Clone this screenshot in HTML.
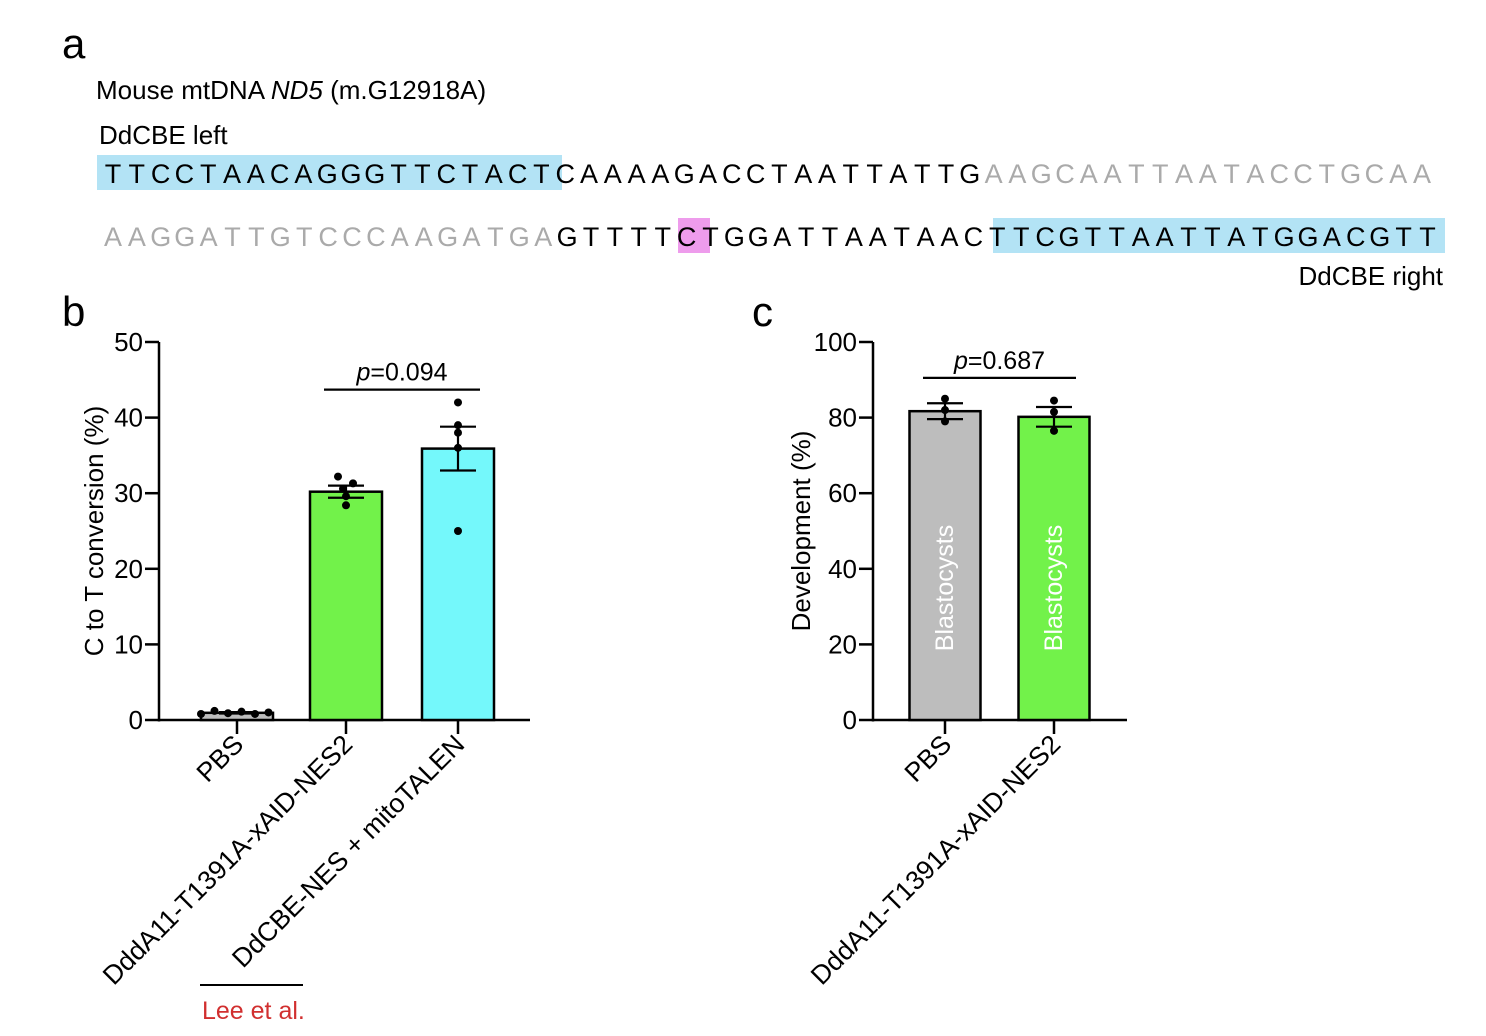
<!DOCTYPE html>
<html><head><meta charset="utf-8"><style>
html,body{margin:0;padding:0;background:#fff;width:1486px;height:1036px;overflow:hidden}
svg{display:block;font-family:"Liberation Sans",Arial,sans-serif}
</style></head><body>
<svg id="fig" width="1486" height="1036" viewBox="0 0 1486 1036">
<text x="62" y="58" font-size="42">a</text>
<text x="96" y="99" font-size="26">Mouse mtDNA <tspan font-style="italic">ND5</tspan> (m.G12918A)</text>
<text x="99" y="144" font-size="26">DdCBE left</text>
<text x="1443" y="285" font-size="26" text-anchor="end">DdCBE right</text>
<rect x="97" y="155" width="465" height="35" fill="#b3e3f5"/>
<rect x="678" y="218" width="32" height="35" fill="#ee9cec"/>
<rect x="993" y="218" width="452" height="35" fill="#b3e3f5"/>
<g id="seq" font-size="27" text-anchor="middle"></g>

<text x="62" y="326" font-size="42">b</text>
<g id="chartB"></g>
<text x="752" y="326" font-size="42">c</text>
<g id="chartC"></g>
</svg>
<script>
const NS="http://www.w3.org/2000/svg";
function mk(p,tag,attrs,txt){const e=document.createElementNS(NS,tag);for(const k in attrs)e.setAttribute(k,attrs[k]);if(txt!==undefined)e.textContent=txt;p.appendChild(e);return e;}
const seqLines=[
 [["TTCCTAACAGGGTTCTACT","#000"],["CAAAAGACCTAATTATTG","#000"],["AAGCAATTAATACCTGCAA","#aaa"]],
 [["AAGGATTGTCCCAAGATGA","#aaa"],["GTTTTCTGGATTAATAAC","#000"],["TTCGTTAATTATGGACGTT","#000"]]
];
const seqG=document.getElementById('seq');
seqLines.forEach((line,li)=>{
  let i=0;const x0=113,step=li===0?23.8:23.9,y=li===0?183:246;
  line.forEach(([s,c])=>{for(const ch of s){const t=mk(seqG,'text',{x:x0+i*step,y:y,fill:c},ch);
    
    i++;}});
});

// Chart B data
const catsB=["PBS","DddA11-T1391A-xAID-NES2","DdCBE-NES + mitoTALEN"];
const meansB=[0.95,30.2,35.9];
const semB=[0.1,0.8,2.9];
const ptsB=[[0.8,1.2,0.9,1.1,0.8,1.0],[32.2,31.3,30.6,29.6,28.4],[42,39,38,36,25]];
const colorsB=["#bdbdbd","#72f24a","#74f8fb"];
const ticksB=[0,10,20,30,40,50];
// Chart C data
const catsC=["PBS","DddA11-T1391A-xAID-NES2"];
const meansC=[81.7,80.2];
const semC=[2.1,2.6];
const ptsC=[[85,82,79],[84.5,81.5,76.5]];
const colorsC=["#bdbdbd","#72f24a"];
const ticksC=[0,20,40,60,80,100];

function chart(g,o){
  const y=v=>o.y0-(v-o.min)/(o.max-o.min)*(o.y0-o.y1);
  mk(g,'line',{x1:o.ax,y1:o.y1,x2:o.ax,y2:o.y0+1.5,stroke:'#000','stroke-width':2.5});
  mk(g,'line',{x1:o.ax-1,y1:o.y0,x2:o.axEnd,y2:o.y0,stroke:'#000','stroke-width':2.5});
  o.ticks.forEach(t=>{
    const l=mk(g,'line',{x1:o.ax-14,y1:y(t),x2:o.ax,y2:y(t),stroke:'#000','stroke-width':2.5});
    
    
    const tx=mk(g,'text',{x:o.ax-16,y:y(t)+9,'font-size':26,'text-anchor':'end'},t);
    
    
  });
  const yt=mk(g,'text',{x:0,y:0,'font-size':26,'text-anchor':'middle',transform:`translate(${o.ylx},${(o.y0+o.y1)/2}) rotate(-90)`},o.ylabel);
  
  
  o.cats.forEach((c,i)=>{
    const cx=o.cx[i],yb=y(o.means[i]);
    const b=mk(g,'rect',{x:cx-o.bw/2,y:yb,width:o.bw,height:o.y0-yb,fill:o.colors[i],stroke:'#000','stroke-width':2.5});
    
    
    if(o.inner){const it=mk(g,'text',{x:0,y:0,'font-size':25,fill:'#fff','text-anchor':'middle',transform:`translate(${cx+8},${588}) rotate(-90)`},o.inner);
      
      }
    const hi=y(o.means[i]+o.sem[i]),lo=y(o.means[i]-o.sem[i]);
    const eb=mk(g,'path',{d:`M${cx},${hi}V${lo}M${cx-18},${hi}H${cx+18}M${cx-18},${lo}H${cx+18}`,stroke:'#000','stroke-width':2.2,fill:'none'});
    
    
    o.pts[i].forEach((v,j)=>{
      const p=mk(g,'circle',{cx:cx,cy:y(v),r:4,fill:'#000'});
      
      
    });
    const tk=mk(g,'line',{x1:cx,y1:o.y0,x2:cx,y2:o.y0+14,stroke:'#000','stroke-width':2.5});
    
    
    const lx=cx+8,ly=o.y0+26;
    const xl=mk(g,'text',{x:0,y:0,'font-size':26.5,'text-anchor':'end',transform:`translate(${lx},${ly}) rotate(-45)`},c);
    
    
  });
  const [a,b2]=o.sigPair;
  const sy=y(o.sigY);
  const sl=mk(g,'line',{x1:o.cx[a]-22,y1:sy,x2:o.cx[b2]+22,y2:sy,stroke:'#000','stroke-width':2.2});
  
  
  const st=mk(g,'text',{x:(o.cx[a]+o.cx[b2])/2,y:sy-9,'font-size':25,'text-anchor':'middle'});
  
  
  mk(st,'tspan',{'font-style':'italic'},'p');mk(st,'tspan',{},o.pval);
}
const gB=document.getElementById('chartB');
chart(gB,{ax:159,axEnd:530,y0:720,y1:342,min:0,max:50,ticks:ticksB,ylabel:'C to T conversion (%)',ylx:103,
 cats:catsB,means:meansB,sem:semB,pts:ptsB,colors:colorsB,cx:[237,346,458],bw:72,
 sigPair:[1,2],sigY:43.7,pval:'=0.094'});
(function(){const cs=gB.querySelectorAll('circle');for(let j=0;j<6;j++){cs[j].setAttribute('cx',201+j*13.5);}
 const gx=[338,353,343,346,346];for(let j=0;j<5;j++)cs[6+j].setAttribute('cx',gx[j]);})();
const lee=mk(gB,'line',{x1:200,y1:985,x2:303,y2:985,stroke:'#000','stroke-width':2});


const leeT=mk(gB,'text',{x:202,y:1019,'font-size':25,fill:'#d12f2f'},'Lee et al.');


const gC=document.getElementById('chartC');
chart(gC,{ax:873,axEnd:1127,y0:720,y1:342,min:0,max:100,ticks:ticksC,ylabel:'Development (%)',ylx:810,
 cats:catsC,means:meansC,sem:semC,pts:ptsC,colors:colorsC,cx:[945,1054],bw:71,inner:'Blastocysts',
 sigPair:[0,1],sigY:90.5,pval:'=0.687'});
</script>
</body></html>
